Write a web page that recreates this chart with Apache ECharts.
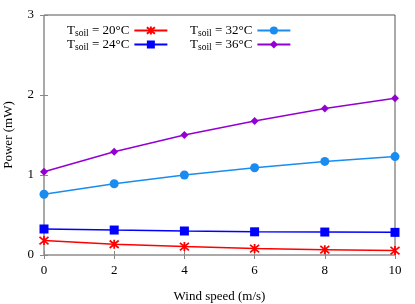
<!DOCTYPE html>
<html><head><meta charset="utf-8">
<script src="https://cdn.jsdelivr.net/npm/echarts@6/dist/echarts.min.js"></script>
<style>html,body{margin:0;padding:0;background:#fff}#c{width:415px;height:304px}</style>
</head><body><div id="c"></div>
<script>
var windSpeed = [0, 2, 4, 6, 8, 10];
var p20 = [0.18, 0.135, 0.105, 0.08, 0.067, 0.055];
var p24 = [0.325, 0.312, 0.30, 0.29, 0.287, 0.283];
var p32 = [0.76, 0.89, 1.0, 1.09, 1.17, 1.23];
var p36 = [1.04, 1.29, 1.50, 1.675, 1.83, 1.96];
var names = ['20', '24', '32', '36'];
var xTicks = [0, 2, 4, 6, 8, 10];
var yTicks = [0, 1, 2, 3];

var FONT = 'Liberation Serif';
function pairs(v){ return windSpeed.map(function(x,i){ return [x, v[i]]; }); }
function nm(t){ return 'Tsoil = ' + t + '°C'; }
var star = 'path://M0,0L10,10M10,0L0,10M5,-1L5,11';

var chart = echarts.init(document.getElementById('c'));
var legendCommon = {
  orient: 'vertical', align: 'right', itemWidth: 33, itemHeight: 10, itemGap: 0,
  textStyle: {fontFamily: FONT, fontSize: 13, color: '#000',
    rich: {t: {fontFamily: FONT, fontSize: 13, color: '#000'},
           s: {fontFamily: FONT, fontSize: 9.5, color: '#000', padding: [5,0,0,0]}}},
  formatter: function(n){ return '{t|T}{s|soil}{t|' + n.slice(5) + '}'; }
};
chart.setOption({
  animation: false,
  grid: {left: 44, right: 20, top: 15, bottom: 49, show: true, borderColor: '#555', borderWidth: 1,
         containLabel: false, outerBoundsMode: 'none'},
  legend: [
    Object.assign({left: 62, top: 19, data: [nm('20'), nm('24')]}, legendCommon),
    Object.assign({left: 185, top: 19, data: [nm('32'), nm('36')]}, legendCommon)
  ],
  xAxis: [{
    type: 'value', min: 0, max: 10, interval: 2,
    name: 'Wind speed (m/s)', nameLocation: 'middle', nameGap: 35,
    nameTextStyle: {fontFamily: FONT, fontSize: 13, color: '#000'},
    axisLine: {show: false}, splitLine: {show: false},
    axisTick: {inside: true, length: 4, lineStyle: {color: '#888'}},
    axisLabel: {fontFamily: FONT, fontSize: 13, color: '#000', margin: 9}
  }, {
    type: 'value', min: 0, max: 10, interval: 2, position: 'top',
    axisLine: {show: false}, splitLine: {show: false}, axisLabel: {show: false},
    axisTick: {inside: true, length: 4, lineStyle: {color: '#888'}}
  }],
  yAxis: [{
    type: 'value', min: 0, max: 3, interval: 1,
    name: 'Power (mW)', nameLocation: 'middle', nameGap: 29,
    nameTextStyle: {fontFamily: FONT, fontSize: 13, color: '#000'},
    axisLine: {show: false}, splitLine: {show: false},
    axisTick: {show: true, inside: true, length: 4, lineStyle: {color: '#888'}},
    axisLabel: {fontFamily: FONT, fontSize: 13, color: '#000', margin: 10}
  }, {
    type: 'value', min: 0, max: 3, interval: 1, position: 'right',
    axisLine: {show: false}, splitLine: {show: false}, axisLabel: {show: false},
    axisTick: {show: true, inside: true, length: 4, lineStyle: {color: '#888'}}
  }],
  series: [
    {name: nm('20'), type: 'line', data: pairs(p20), symbol: star, symbolSize: 9,
     lineStyle: {color: '#ff0000', width: 1.5},
     itemStyle: {color: '#ff0000', borderColor: '#ff0000', borderWidth: 1.8}},
    {name: nm('24'), type: 'line', data: pairs(p24), symbol: 'rect', symbolSize: 9,
     lineStyle: {color: '#0000ff', width: 1.5}, itemStyle: {color: '#0000ff'}},
    {name: nm('32'), type: 'line', data: pairs(p32), symbol: 'circle', symbolSize: 9,
     lineStyle: {color: '#1a8cf0', width: 1.5}, itemStyle: {color: '#1a8cf0'}},
    {name: nm('36'), type: 'line', data: pairs(p36), symbol: 'diamond', symbolSize: 8,
     lineStyle: {color: '#9400d3', width: 1.5}, itemStyle: {color: '#9400d3'}}
  ]
});
</script></body></html>
